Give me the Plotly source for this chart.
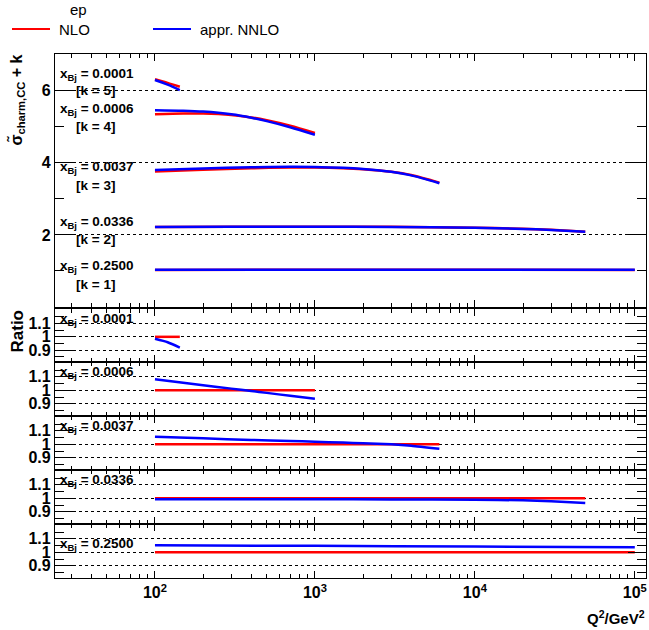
import plotly.graph_objects as go

# ---------------- data ----------------
xbj_labels = ["0.0001", "0.0006", "0.0037", "0.0336", "0.2500"]
k_offsets = [5, 4, 3, 2, 1]

q2_x1 = [100, 120, 143]
nlo_x1 = [1.32, 1.22, 1.11]
nnlo_x1 = [1.300, 1.170, 1.020]

q2_x2 = [100, 150, 200, 300, 400, 500, 700, 1000]
nlo_x2 = [1.35, 1.37, 1.37, 1.33, 1.26, 1.18, 1.03, 0.83]
nnlo_x2 = [1.461, 1.447, 1.422, 1.347, 1.254, 1.158, 0.988, 0.778]

q2_x3 = [100, 200, 400, 700, 1000, 1500, 2000, 3000, 4000, 6000]
nlo_x3 = [0.76, 0.81, 0.85, 0.87, 0.87, 0.85, 0.82, 0.75, 0.66, 0.45]
nnlo_x3 = [0.803, 0.846, 0.878, 0.892, 0.887, 0.861, 0.827, 0.750, 0.653, 0.435]

q2_x4 = [100, 300, 1000, 3000, 10000, 20000, 30000, 49000]
nlo_x4 = [0.22, 0.225, 0.23, 0.225, 0.20, 0.17, 0.14, 0.09]
nnlo_x4 = [0.2185, 0.2234, 0.2284, 0.2232, 0.198, 0.1675, 0.137, 0.0869]

q2_x5 = [100, 1000, 10000, 100000]
nlo_x5 = [0.030, 0.031, 0.031, 0.030]
nnlo_x5 = [0.03156, 0.03249, 0.03233, 0.03114]

x_tick_vals = [100, 1000, 10000, 100000]
x_tick_text = ["10<sup>2</sup>", "10<sup>3</sup>", "10<sup>4</sup>", "10<sup>5</sup>"]

series = [
    (q2_x1, nlo_x1, nnlo_x1),
    (q2_x2, nlo_x2, nnlo_x2),
    (q2_x3, nlo_x3, nnlo_x3),
    (q2_x4, nlo_x4, nnlo_x4),
    (q2_x5, nlo_x5, nnlo_x5),
]

# ---------------- layout helpers ----------------
W, H = 649, 630
ML, MR, MT, MB = 55, 3, 54, 52
PW = W - ML - MR
PH = H - MT - MB


def px_x(px):
    return (px - ML) / PW


def px_y(py):
    return (H - MB - py) / PH


RED = "#ff0000"
BLUE = "#0000ff"
FONT = "Liberation Sans, Arial, sans-serif"
LW = 2.5
FW = 1.2  # frame line width

fig = go.Figure()

# main panel
for (q2, nlo, nnlo), k in zip(series, k_offsets):
    fig.add_trace(go.Scatter(x=q2, y=[v + k for v in nlo], mode="lines",
                             line=dict(color=RED, width=LW, shape="spline", smoothing=0.8),
                             showlegend=False, xaxis="x", yaxis="y"))
    fig.add_trace(go.Scatter(x=q2, y=[v + k for v in nnlo], mode="lines",
                             line=dict(color=BLUE, width=LW, shape="spline", smoothing=0.8),
                             showlegend=False, xaxis="x", yaxis="y"))

# ratio panels
for i, (q2, nlo, nnlo) in enumerate(series):
    ax = str(i + 2)
    fig.add_trace(go.Scatter(x=q2, y=[a / a for a in nlo], mode="lines",
                             line=dict(color=RED, width=LW),
                             showlegend=False, xaxis="x" + ax, yaxis="y" + ax))
    fig.add_trace(go.Scatter(x=q2, y=[b / a for a, b in zip(nlo, nnlo)], mode="lines",
                             line=dict(color=BLUE, width=LW, shape="spline", smoothing=0.6),
                             showlegend=False, xaxis="x" + ax, yaxis="y" + ax))

XR = [1.375, 5.07]
minor_x = [m * 10 ** e for e in range(1, 6) for m in range(2, 10)]

common_x = dict(type="log", range=XR, showline=True, linecolor="black", linewidth=FW,
                mirror="allticks", ticks="inside", ticklen=7, tickwidth=1, tickcolor="black",
                tickmode="array", tickvals=x_tick_vals, ticktext=x_tick_text,
                showgrid=False, zeroline=False, automargin=False,
                minor=dict(tickmode="array", tickvals=minor_x, ticks="inside", ticklen=3.5,
                           tickcolor="black", showgrid=False))

layout = dict(
    width=W, height=H, margin=dict(l=ML, r=MR, t=MT, b=MB, autoexpand=False),
    plot_bgcolor="white", paper_bgcolor="white",
    font=dict(family=FONT, color="black"),
    showlegend=False,
)

panel_px = [(309, 362), (362, 416), (416, 470), (470, 524), (524, 578)]

layout["xaxis"] = dict(common_x, domain=[0, 1], anchor="y", showticklabels=False)
layout["yaxis"] = dict(domain=[px_y(307), 1], range=[0, 7.02], anchor="x",
                       showline=True, linecolor="black", linewidth=FW, mirror="allticks",
                       ticks="inside", ticklen=18, tickwidth=1, tickcolor="black",
                       tickvals=[2, 4, 6], ticktext=["2", "4", "6"],
                       tickfont=dict(size=16, weight="bold"), automargin=False,
                       showgrid=True, gridcolor="black", gridwidth=1, griddash="dot",
                       zeroline=False,
                       minor=dict(tickvals=[1, 3, 5], ticks="inside", ticklen=9,
                                  tickcolor="black", showgrid=False))

for i, (top, bot) in enumerate(panel_px):
    n = str(i + 2)
    xa = dict(common_x, domain=[0, 1], anchor="y" + n,
              showticklabels=(i == 4), tickfont=dict(size=16, weight="bold"))
    layout["xaxis" + n] = xa
    layout["yaxis" + n] = dict(domain=[px_y(bot), px_y(top)], range=[0.81, 1.21],
                               anchor="x" + n, showline=True, linecolor="black",
                               linewidth=FW, mirror="allticks", ticks="inside",
                               ticklen=18, tickwidth=1, tickcolor="black",
                               tickvals=[0.9, 1.0, 1.1], ticktext=["0.9", "1", "1.1"],
                               tickfont=dict(size=16, weight="bold"), automargin=False,
                               showgrid=True, gridcolor="black", gridwidth=1,
                               griddash="dot", zeroline=False,
                               minor=dict(tickvals=[0.85, 0.95, 1.05, 1.15],
                                          ticks="inside", ticklen=9, tickcolor="black",
                                          showgrid=False))

fig.update_layout(**layout)

ann = []
# main panel labels
main_label_y = [(6.46, 6.0), (5.49, 5.02), (3.87, 3.38), (2.34, 1.86), (1.12, 0.63)]
for lab, k, (yl, yk) in zip(xbj_labels, k_offsets, main_label_y):
    ann.append(dict(x=px_x(58), y=yl, xref="paper", yref="y", xanchor="left",
                    yanchor="middle", showarrow=False,
                    text="<b>x<sub>Bj</sub> = %s</b>" % lab, font=dict(size=13.5)))
    ann.append(dict(x=px_x(74), y=yk, xref="paper", yref="y", xanchor="left",
                    yanchor="middle", showarrow=False,
                    text="<b>[k = %d]</b>" % k, font=dict(size=13.5)))

ratio_label_y = [1.13, 1.13, 1.13, 1.13, 1.06]
for i, (lab, yl) in enumerate(zip(xbj_labels, ratio_label_y)):
    ann.append(dict(x=px_x(58), y=yl, xref="paper", yref="y" + str(i + 2),
                    xanchor="left", yanchor="middle", showarrow=False,
                    text="<b>x<sub>Bj</sub> = %s</b>" % lab, font=dict(size=13.5)))

# axis titles
ann.append(dict(x=px_x(16), y=px_y(53), xref="paper", yref="paper", xanchor="center",
                yanchor="top", textangle=-90, showarrow=False,
                text="<b>σ̃<sub>charm,CC</sub> + k</b>", font=dict(size=16)))
ann.append(dict(x=px_x(17), y=px_y(308), xref="paper", yref="paper", xanchor="center",
                yanchor="top", textangle=-90, showarrow=False,
                text="<b>Ratio</b>", font=dict(size=17)))
ann.append(dict(x=px_x(647), y=px_y(617), xref="paper", yref="paper", xanchor="right",
                yanchor="middle", showarrow=False,
                text="<b>Q<sup>2</sup>/GeV<sup>2</sup></b>", font=dict(size=15)))

# legend
ann.append(dict(x=px_x(78), y=px_y(10), xref="paper", yref="paper", xanchor="center",
                yanchor="middle", showarrow=False, text="ep", font=dict(size=15)))
ann.append(dict(x=px_x(57), y=px_y(29), xref="paper", yref="paper", xanchor="left",
                yanchor="middle", showarrow=False, text="NLO", font=dict(size=15)))
ann.append(dict(x=px_x(198), y=px_y(29), xref="paper", yref="paper", xanchor="left",
                yanchor="middle", showarrow=False, text="appr. NNLO", font=dict(size=15)))

shapes = [
    dict(type="line", xref="paper", yref="paper", x0=px_x(12), x1=px_x(50),
         y0=px_y(29), y1=px_y(29), line=dict(color=RED, width=2)),
    dict(type="line", xref="paper", yref="paper", x0=px_x(153), x1=px_x(191),
         y0=px_y(29), y1=px_y(29), line=dict(color=BLUE, width=2)),
]

fig.update_layout(annotations=ann, shapes=shapes)
fig.write_html("out.html", config={"displayModeBar": False},
               post_script="document.body.style.margin='0px';")
